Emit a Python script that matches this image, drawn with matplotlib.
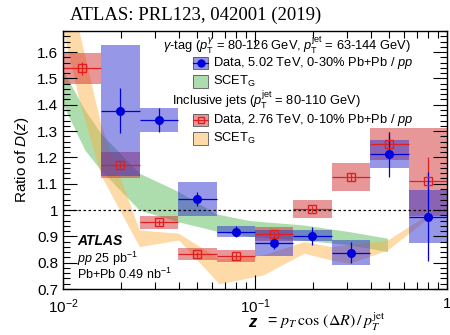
import numpy as np
import matplotlib
matplotlib.use("Agg")
import matplotlib.pyplot as plt
from matplotlib.patches import Rectangle
from matplotlib.ticker import FixedLocator, FuncFormatter, MultipleLocator, LogLocator, NullFormatter

plt.rcParams['font.family'] = 'Liberation Sans'
plt.rcParams['mathtext.fontset'] = 'custom'
plt.rcParams['mathtext.rm'] = 'Liberation Sans'
plt.rcParams['mathtext.it'] = 'Liberation Sans:italic'
plt.rcParams['mathtext.bf'] = 'Liberation Sans:bold'

# gamma-tagged jets, 5.02 TeV, 0-30% Pb+Pb / pp
gam_edges = [0.0158, 0.0251, 0.0398, 0.0631, 0.1, 0.158, 0.251, 0.398, 0.631, 1.0]
gam_val = [1.378, 1.343, 1.042, 0.918, 0.874, 0.902, 0.838, 1.212, 0.975]
gam_stat = [0.085, 0.045, 0.028, 0.02, 0.023, 0.033, 0.04, 0.085, 0.17]
gam_sys = [0.25, 0.045, 0.063, 0.022, 0.05, 0.021, 0.048, 0.054, 0.10]

# inclusive jets, 2.76 TeV, 0-10% Pb+Pb / pp
inc_edges = [0.01, 0.0158, 0.0251, 0.0398, 0.0631, 0.1, 0.158, 0.251, 0.398, 0.631, 1.0]
inc_val = [1.539, 1.171, 0.954, 0.832, 0.825, 0.908, 1.005, 1.127, 1.251, 1.111]
inc_stat = [0.025, 0.012, 0.01, 0.01, 0.01, 0.01, 0.012, 0.015, 0.047, 0.09]
inc_sys_lo = [0.06, 0.048, 0.025, 0.022, 0.022, 0.026, 0.035, 0.053, 0.06, 0.134]
inc_sys_hi = [0.058, 0.048, 0.025, 0.022, 0.022, 0.026, 0.035, 0.053, 0.06, 0.2]

# SCET_G bands
scet_gam_z = [0.01, 0.013, 0.0158, 0.025, 0.04, 0.063, 0.094, 0.18, 0.31, 0.49]
scet_gam_lo = [1.40, 1.228, 1.15, 1.0, 0.955, 0.92, 0.90, 0.885, 0.868, 0.842]
scet_gam_hi = [1.53, 1.38, 1.29, 1.14, 1.07, 0.985, 0.96, 0.943, 0.918, 0.893]

scet_inc_z = [0.01, 0.0123, 0.0158, 0.025, 0.04, 0.065, 0.11, 0.18, 0.25, 0.31, 0.49, 0.8]
scet_inc_lo = [1.68, 1.40, 1.13, 0.861, 0.886, 0.72, 0.753, 0.836, 0.81, 0.798, 0.848, 0.97]
scet_inc_hi = [1.95, 1.66, 1.32, 0.924, 0.912, 0.815, 0.83, 0.88, 0.861, 0.869, 0.886, 0.985]

blue_box = '#3030d0'
red_box = '#d03030'
green_band = '#33aa33'
orange_band = '#ffae40'

fig = plt.figure(figsize=(4.5, 3.35), dpi=100)
ax = fig.add_axes([0.14, 0.1373, 0.8533, 0.770])
ax.set_xscale('log')

ax.fill_between(scet_gam_z, scet_gam_lo, scet_gam_hi, color=green_band, alpha=0.4, lw=0)
ax.fill_between(scet_inc_z, scet_inc_lo, scet_inc_hi, color=orange_band, alpha=0.45, lw=0)


def draw_data(edges, val, stat, slo, shi, box_col, line_col, marker, mfc):
    edges = np.array(edges)
    val = np.array(val)
    left, right = edges[:-1], edges[1:]
    cen = np.sqrt(left * right)
    slo = np.array(slo)
    shi = np.array(shi)
    ax.bar(left, slo + shi, width=right - left, bottom=val - slo, align='edge',
           color=box_col, alpha=0.5, lw=0)
    ax.errorbar(cen, val, yerr=stat, xerr=[cen - left, right - cen], fmt=marker,
                color=line_col, mfc=mfc, mec=line_col, ms=5.5, lw=0.9, capsize=0)


draw_data(inc_edges, inc_val, inc_stat, inc_sys_lo, inc_sys_hi, red_box, '#e02020', 's', 'none')
draw_data(gam_edges, gam_val, gam_stat, gam_sys, gam_sys, blue_box, '#0000dd', 'o', '#0000dd')

ax.axhline(1.0, color='black', ls=(0, (2, 2)), lw=0.9)

ax.set_xlim(0.01, 1)
ax.set_ylim(0.7, 1.68)

ax.xaxis.set_major_locator(FixedLocator([0.01, 0.1, 1]))
ax.xaxis.set_major_formatter(FuncFormatter(
    lambda v, p: {0.01: r'$10^{-2}$', 0.1: r'$10^{-1}$', 1: '1'}.get(round(v, 4), '')))
ax.xaxis.set_minor_locator(LogLocator(base=10, subs=np.arange(2, 10)))
ax.xaxis.set_minor_formatter(NullFormatter())
ax.yaxis.set_major_locator(MultipleLocator(0.1))
ax.yaxis.set_minor_locator(MultipleLocator(0.02))
ax.yaxis.set_major_formatter(FuncFormatter(lambda v, p: '%g' % round(v, 2)))
ax.tick_params(which='both', direction='in', top=True, right=True, labelsize=11, width=0.8)
ax.tick_params(which='major', length=10)
ax.tick_params(which='minor', length=5)
ax.tick_params(axis='x', pad=6)
for s in ax.spines.values():
    s.set_linewidth(1.0)

ax.set_ylabel('Ratio of $D(z)$', fontsize=11, labelpad=4)
ax.text(0.482, -0.128, 'z', transform=ax.transAxes, fontsize=12, fontweight='bold',
        style='italic', va='center', ha='left')
ax.text(0.53, -0.128, r'= $p_T\,\cos\,(\Delta R)\,/\,p_T^{\rm jet}$', transform=ax.transAxes,
        fontsize=11.5, va='center', ha='left', math_fontfamily='stix')

fig.text(0.155, 0.955, 'ATLAS: PRL123, 042001 (2019)', family='Liberation Serif',
         fontsize=13.5, va='center', ha='left')

# ATLAS label
ax.text(0.036, 0.185, 'ATLAS', transform=ax.transAxes, fontsize=10, fontweight='bold',
        style='italic', va='center')
ax.text(0.036, 0.115, r'$pp$ 25 pb$^{-1}$', transform=ax.transAxes, fontsize=9, va='center')
ax.text(0.036, 0.055, r'Pb+Pb 0.49 nb$^{-1}$', transform=ax.transAxes, fontsize=9, va='center')

# legend
fs = 9.3
ax.text(0.26, 0.946, r'$\gamma$-tag ($p_{\rm T}^{\gamma}$ = 80-126 GeV, $p_{\rm T}^{\rm jet}$ = 63-144 GeV)',
        transform=ax.transAxes, fontsize=fs, va='center')
ax.text(0.284, 0.733, r'Inclusive jets ($p_{\rm T}^{\rm jet}$ = 80-110 GeV)',
        transform=ax.transAxes, fontsize=fs, va='center')

bx0, bw, bh = 0.339, 0.039, 0.05
entries = [
    (0.876, blue_box, 0.5, 'Data, 5.02 TeV, 0-30% Pb+Pb / $pp$', ('o', '#0000dd', '#0000dd')),
    (0.806, green_band, 0.4, r'SCET$_{\rm G}$', None),
    (0.655, red_box, 0.5, 'Data, 2.76 TeV, 0-10% Pb+Pb / $pp$', ('s', '#e02020', 'none')),
    (0.585, orange_band, 0.45, r'SCET$_{\rm G}$', None),
]
for yc, col, al, label, mk in entries:
    ax.add_patch(Rectangle((bx0, yc - bh / 2), bw, bh, transform=ax.transAxes,
                           facecolor=col, alpha=al, edgecolor='none', clip_on=False))
    ax.add_patch(Rectangle((bx0, yc - bh / 2), bw, bh, transform=ax.transAxes,
                           facecolor='none', edgecolor='#555555', lw=0.6, clip_on=False))
    if mk is not None:
        ax.plot([bx0, bx0 + bw], [yc, yc], color=mk[1], lw=0.9, transform=ax.transAxes)
        ax.plot([bx0 + bw / 2], [yc], marker=mk[0], color=mk[1], mfc=mk[2], ms=5,
                transform=ax.transAxes)
    ax.text(bx0 + bw + 0.012, yc, label, transform=ax.transAxes, fontsize=9.3, va='center')

fig.savefig('out.png', dpi=100)
